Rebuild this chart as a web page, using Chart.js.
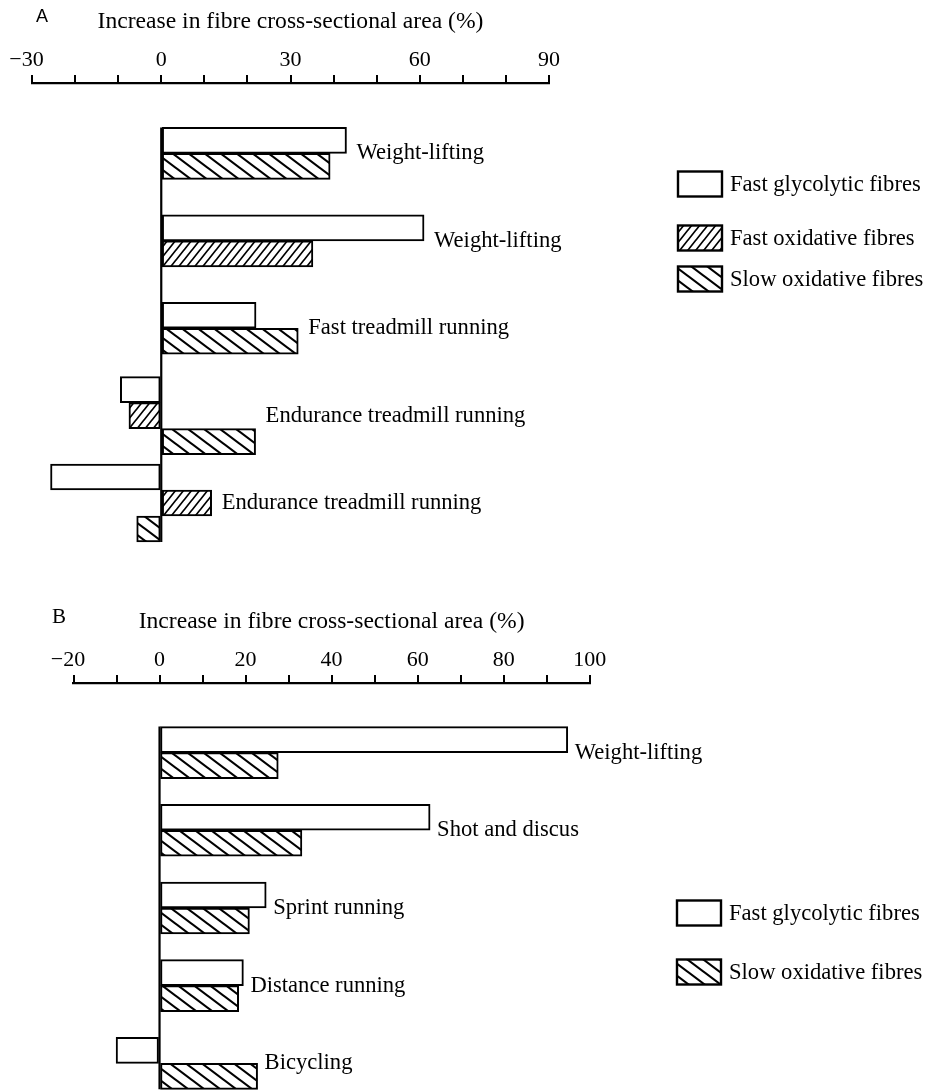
<!DOCTYPE html>
<html>
<head>
<meta charset="utf-8">
<script src="https://cdn.jsdelivr.net/npm/chart.js@4.4.1/dist/chart.umd.min.js"></script>
<style>
  html, body { margin: 0; padding: 0; background: #fff; overflow: hidden; width: 931px; height: 1090px; }
  .panel { position: absolute; left: 0; width: 931px; }
  #wrapA { top: 0; height: 590px; }
  #wrapB { top: 600px; height: 510px; }
  canvas { display: block; }
</style>
</head>
<body>
<div class="panel" id="wrapA"><canvas id="chartA" width="931" height="590"></canvas></div>
<div class="panel" id="wrapB"><canvas id="chartB" width="931" height="510"></canvas></div>
<script>
// ---------------- data ----------------
const axisTitle = 'Increase in fibre cross-sectional area (%)';
const seriesNames = ['Fast glycolytic fibres', 'Fast oxidative fibres', 'Slow oxidative fibres'];

// Panel A
const categoriesA = ['Weight-lifting', 'Weight-lifting', 'Fast treadmill running', 'Endurance treadmill running', 'Endurance treadmill running'];
const fastGlycolyticA = [43, 61, 22, -9.5, -25.7];
const fastOxidativeA  = [null, 35.2, null, -7.5, 11.7];
const slowOxidativeA  = [39.2, null, 31.8, 21.9, -5.7];
const tickLabelsA = [-30, 0, 30, 60, 90];

// Panel B
const categoriesB = ['Weight-lifting', 'Shot and discus', 'Sprint running', 'Distance running', 'Bicycling'];
const fastGlycolyticB = [94.9, 62.9, 24.8, 19.5, -10.1];
const slowOxidativeB  = [27.6, 33.1, 20.9, 18.4, 22.8];
const tickLabelsB = [-20, 0, 20, 40, 60, 80, 100];

// ---------------- styling ----------------
const SERIF = "'Liberation Serif', 'Times New Roman', 'DejaVu Serif', serif";
const SANS = "'Liberation Sans', Arial, sans-serif";
const TEXT_SIZE = 22.6;

function hatch(w, h, dir, lw) {
  const c = document.createElement('canvas');
  c.width = w; c.height = h;
  const g = c.getContext('2d');
  g.fillStyle = '#fff';
  g.fillRect(0, 0, w, h);
  g.strokeStyle = '#000';
  g.lineWidth = lw;
  g.beginPath();
  for (let k = -1; k <= 1; k++) {
    if (dir === 'back') {          // "\" lines
      g.moveTo(k * w - w, -h); g.lineTo(k * w + 2 * w, 2 * h);
    } else {                       // "/" lines
      g.moveTo(k * w - w, 2 * h); g.lineTo(k * w + 2 * w, -h);
    }
  }
  g.stroke();
  return g.createPattern(c, 'repeat');
}
const patFastOx = hatch(8, 10, 'fwd', 1.7);
const patSlowOx = hatch(16, 12, 'back', 2.1);

// minus hangs to the left of the digits, digits centred on the tick
const fmt = v => (v < 0 ? '\u2212' + Math.abs(v) + '\u2002' : String(v));

const barStyle = {
  borderColor: '#000',
  borderWidth: 2,
  borderSkipped: false,
  barThickness: 26,
  skipNull: true
};

// ---------------- plugin: zero line, bar labels, legend, panel letter ----------------
const annotate = {
  id: 'annotate',
  afterDatasetsDraw(chart, args, opts) {
    const ctx = chart.ctx;
    const xs = chart.scales.x, ys = chart.scales.y;
    const x0 = xs.getPixelForValue(0);
    let top = Infinity, bottom = -Infinity;
    chart.data.datasets.forEach((ds, di) => {
      chart.getDatasetMeta(di).data.forEach((el, i) => {
        if (ds.data[i] == null) return;
        top = Math.min(top, el.y - el.height / 2);
        bottom = Math.max(bottom, el.y + el.height / 2);
      });
    });
    ctx.save();
    ctx.strokeStyle = '#000';
    ctx.lineWidth = 2.2;
    ctx.beginPath();
    ctx.moveTo(x0, top);
    ctx.lineTo(x0, bottom);
    ctx.stroke();

    // category labels next to bars
    ctx.fillStyle = '#000';
    ctx.font = TEXT_SIZE + 'px ' + SERIF;
    ctx.textAlign = 'left';
    ctx.textBaseline = 'middle';
    chart.data.labels.forEach((lab, i) => {
      let end = x0;
      chart.data.datasets.forEach((ds, di) => {
        const v = ds.data[i];
        if (v != null && v > 0) end = Math.max(end, chart.getDatasetMeta(di).data[i].x);
      });
      ctx.fillText(lab, end + opts.labelGap, ys.getPixelForValue(i));
    });

    // legend
    chart.data.datasets.forEach((ds, di) => {
      const cy = opts.legendY[di];
      const bx = opts.legendX, bw = 44, bh = 25;
      ctx.fillStyle = ds.backgroundColor;
      ctx.fillRect(bx, cy - bh / 2, bw, bh);
      ctx.lineWidth = 2.4;
      ctx.strokeStyle = '#000';
      ctx.strokeRect(bx, cy - bh / 2, bw, bh);
      ctx.fillStyle = '#000';
      ctx.font = TEXT_SIZE + 'px ' + SERIF;
      ctx.fillText(ds.label, bx + bw + 8, cy + 1);
    });

    // panel letter
    ctx.font = opts.letterFont;
    ctx.textAlign = 'center';
    ctx.fillText(opts.letter, opts.letterX, opts.letterY);
    ctx.restore();
  }
};

function makeOptions(min, max, ticksShown, pad, spacer, ann) {
  return {
    responsive: false,
    animation: false,
    indexAxis: 'y',
    layout: { padding: pad },
    scales: {
      x: {
        type: 'linear',
        position: 'top',
        min: min,
        max: max,
        ticks: {
          stepSize: 10,
          autoSkip: false,
          maxRotation: 0,
          padding: 1.8,
          color: '#000',
          font: { family: SERIF, size: 22 },
          callback: v => (ticksShown.includes(v) ? fmt(v) : '')
        },
        grid: { drawOnChartArea: false, drawTicks: true, tickLength: 8, color: '#000', lineWidth: 2 },
        border: { display: true, color: '#000', width: 2.2 },
        title: {
          display: true,
          text: axisTitle,
          color: '#000',
          font: { family: SERIF, size: 23.6 },
          padding: { top: 7.8, bottom: 8.9 }
        }
      },
      y: { type: 'category', display: false, offset: true }
    },
    plugins: {
      legend: { display: false },
      tooltip: { enabled: false },
      title: {
        display: true, text: '', weight: -10,
        font: { size: 2, lineHeight: 1 },
        padding: { top: spacer - 2, bottom: 0 }
      },
      annotate: ann
    }
  };
}

new Chart(document.getElementById('chartA'), {
  type: 'bar',
  data: {
    labels: categoriesA,
    datasets: [
      Object.assign({ label: seriesNames[0], data: fastGlycolyticA, backgroundColor: '#fff' }, barStyle),
      Object.assign({ label: seriesNames[1], data: fastOxidativeA, backgroundColor: patFastOx }, barStyle),
      Object.assign({ label: seriesNames[2], data: slowOxidativeA, backgroundColor: patSlowOx }, barStyle)
    ]
  },
  options: makeOptions(-30, 90, tickLabelsA, { left: 32, right: 382, top: 0, bottom: 43.3 }, 26.7, {
    labelGap: 10, legendX: 678, legendY: [184, 238, 279],
    letter: 'A', letterFont: '18px ' + SANS, letterX: 42, letterY: 17
  }),
  plugins: [annotate]
});

new Chart(document.getElementById('chartB'), {
  type: 'bar',
  data: {
    labels: categoriesB,
    datasets: [
      Object.assign({ label: seriesNames[0], data: fastGlycolyticB, backgroundColor: '#fff' }, barStyle),
      Object.assign({ label: seriesNames[2], data: slowOxidativeB, backgroundColor: patSlowOx }, barStyle)
    ]
  },
  options: makeOptions(-20, 100, tickLabelsB, { left: 73.5, right: 341.3, top: 0, bottom: 7.8 }, 30.7, {
    labelGap: 7, legendX: 677, legendY: [313, 372],
    letter: 'B', letterFont: '21px ' + SERIF, letterX: 59, letterY: 17
  }),
  plugins: [annotate]
});
</script>
</body>
</html>
